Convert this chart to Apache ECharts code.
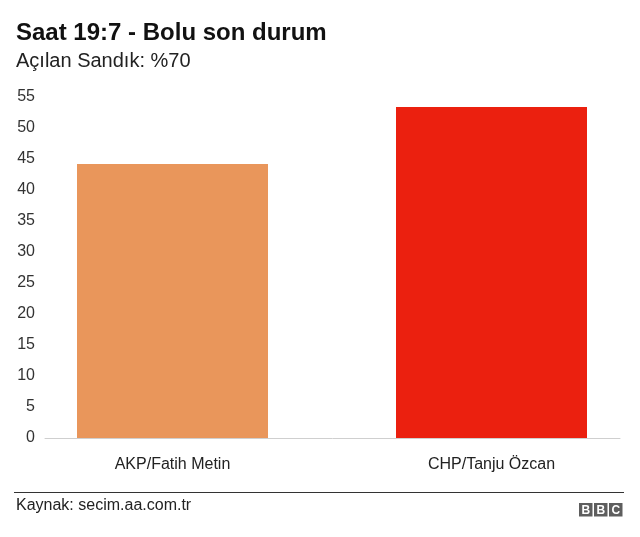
<!DOCTYPE html>
<html>
<head>
<meta charset="utf-8">
<script src="https://cdn.jsdelivr.net/npm/echarts@6/dist/echarts.min.js"></script>
<style>
  html, body { margin: 0; padding: 0; background: #fff; }
  #app { width: 640px; height: 537px; }
</style>
</head>
<body>
<div id="app"></div>
<script>
const categories = ['AKP/Fatih Metin', 'CHP/Tanju Özcan'];
const votes = [44.2, 53.4];
const barColors = ['#e9965b', '#eb200f'];

const font = '"Liberation Sans", Arial, sans-serif';
const chart = echarts.init(document.getElementById('app'));

const option = {
    animation: false,
    backgroundColor: '#fff',
    textStyle: { fontFamily: font },
    grid: [
        // axis grid: y labels and the baseline
        { left: 45, top: 97, width: 575, height: 341 },
        // bar grid: categories sit on the grid edges
        { left: 172.5, top: 97, width: 319, height: 341 }
    ],
    xAxis: [{
        gridIndex: 0,
        type: 'category',
        data: categories,
        axisLine: { lineStyle: { color: '#cfcfcf', width: 1 } },
        axisTick: { show: false },
        axisLabel: { show: false }
    }, {
        gridIndex: 1,
        type: 'category',
        data: categories,
        boundaryGap: false,
        axisLine: { show: false },
        axisTick: { show: false },
        axisLabel: { color: '#222', fontSize: 16, margin: 19, fontFamily: font }
    }],
    yAxis: [{
        gridIndex: 0,
        type: 'value',
        min: 0, max: 55, interval: 5,
        axisLine: { show: false },
        axisTick: { show: false },
        splitLine: { show: false },
        axisLabel: { color: '#333', fontSize: 16, margin: 10, fontFamily: font }
    }, {
        gridIndex: 1,
        type: 'value',
        min: 0, max: 55, interval: 5,
        show: false
    }],
    series: [{
        type: 'bar',
        xAxisIndex: 1,
        yAxisIndex: 1,
        barWidth: 191,
        clip: false,
        data: votes.map((v, i) => ({ value: v, itemStyle: { color: barColors[i] } }))
    }],
    graphic: [
        {
            type: 'text', x: 16, y: 33,
            style: { text: 'Saat 19:7 - Bolu son durum', fill: '#111', font: 'bold 24px ' + font, verticalAlign: 'middle' }
        },
        {
            type: 'text', x: 16, y: 61,
            style: { text: 'Açılan Sandık: %70', fill: '#222', font: '20px ' + font, verticalAlign: 'middle' }
        },
        {
            type: 'line',
            shape: { x1: 14, y1: 492.5, x2: 624, y2: 492.5 },
            style: { stroke: '#333', lineWidth: 1 }
        },
        {
            type: 'text', x: 16, y: 506,
            style: { text: 'Kaynak: secim.aa.com.tr', fill: '#222', font: '16px ' + font, verticalAlign: 'middle' }
        },
        {
            type: 'group', x: 579, y: 503,
            children: ['B', 'B', 'C'].flatMap((ch, i) => [
                { type: 'rect', shape: { x: i * 15, y: 0, width: 13.5, height: 13.5 }, style: { fill: '#5e5e5e' } },
                {
                    type: 'text', x: i * 15 + 6.75, y: 7.2,
                    style: { text: ch, fill: '#fff', font: 'bold 12px ' + font, align: 'center', verticalAlign: 'middle' }
                }
            ])
        }
    ]
};

chart.setOption(option);
</script>
</body>
</html>
